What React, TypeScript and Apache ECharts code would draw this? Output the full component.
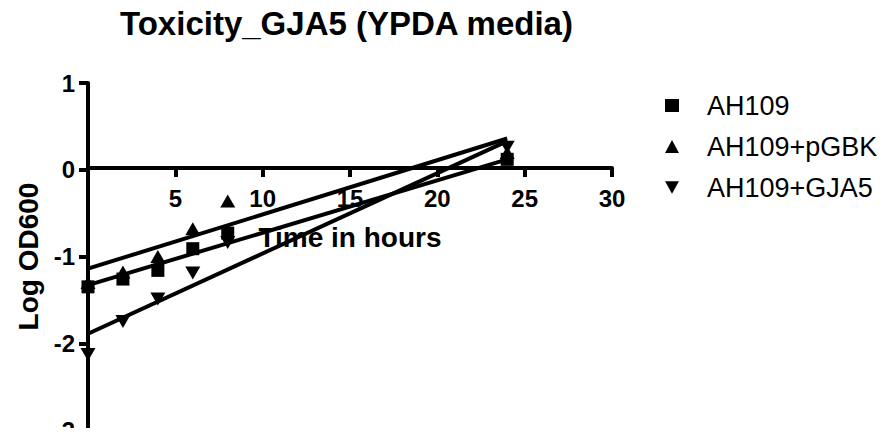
import React, { useEffect, useRef } from "react";
import * as echarts from "echarts";

const seriesNames = ["AH109", "AH109+pGBK", "AH109+GJA5"];
const hours = [0, 2, 4, 6, 8, 24];
const ah109 = [-1.35, -1.26, -1.16, -0.91, -0.73, 0.12];
const ah109pGBK = [-1.3, -1.18, -1.0, -0.68, -0.36, 0.2];
const ah109GJA5 = [-2.13, -1.75, -1.49, -1.19, -0.84, 0.26];
// fitted regression lines (endpoints)
const fitX = [0, 24];
const fitAH109 = [-1.33, 0.12];
const fitPGBK = [-1.14, 0.36];
const fitGJA5 = [-1.89, 0.33];
const xTicks = [0, 5, 10, 15, 20, 25, 30];
const yTicks = [-3, -2, -1, 0, 1];

const FONT = "'Liberation Sans', Arial, Helvetica, sans-serif";
const downTri = "path://M0,0L10,0L5,9Z";

export default function App() {
  const ref = useRef<HTMLDivElement>(null);
  useEffect(() => {
    if (!ref.current) return;
    const chart = echarts.init(ref.current, undefined, { renderer: "svg" });
    const pts = (ys: number[]) => hours.map((h, i) => [h, ys[i]]);
    const fit = (ys: number[]) => fitX.map((x, i) => [x, ys[i]]);
    const lineSeries = (ys: number[]) => ({
      type: "line",
      data: fit(ys),
      showSymbol: false,
      symbol: "none",
      silent: true,
      lineStyle: { color: "#000", width: 4 },
      z: 2,
    });
    const axisFont = { fontFamily: FONT, fontSize: 24, fontWeight: "bold", color: "#000" };
    chart.setOption({
      animation: false,
      backgroundColor: "#fff",
      textStyle: { fontFamily: FONT },
      title: {
        text: "Toxicity_GJA5 (YPDA media)",
        left: 120,
        top: 7,
        padding: 0,
        textStyle: { fontFamily: FONT, fontSize: 33, fontWeight: "bold", color: "#000" },
      },
      legend: {
        orient: "vertical",
        left: 665,
        top: 92,
        padding: 0,
        itemGap: 14,
        itemWidth: 14,
        itemHeight: 13,
        textStyle: { fontFamily: FONT, fontSize: 27, color: "#000", lineHeight: 27, padding: [0, 0, 0, 23] },
        data: [
          { name: seriesNames[0], icon: "rect", itemStyle: { color: "#000", opacity: 1 } },
          { name: seriesNames[1], icon: "triangle", itemStyle: { color: "#000", opacity: 1 } },
          { name: seriesNames[2], icon: downTri, itemStyle: { color: "#000", opacity: 1 } },
        ],
      },
      grid: [
        { left: 88, right: 273, top: 83, bottom: 6, outerBoundsMode: "none", containLabel: false },
        { left: 88, right: 273, top: 83, height: 85, outerBoundsMode: "none", containLabel: false },
      ],
      xAxis: [
        {
          type: "value",
          gridIndex: 0,
          min: xTicks[0],
          max: xTicks[xTicks.length - 1],
          interval: 5,
          show: false,
          splitLine: { show: false },
        },
        {
          type: "value",
          gridIndex: 1,
          position: "bottom",
          min: xTicks[0],
          max: xTicks[xTicks.length - 1],
          interval: 5,
          name: "Time in hours",
          nameLocation: "middle",
          nameGap: 55,
          nameTextStyle: { fontFamily: FONT, fontSize: 28, fontWeight: "bold", color: "#000" },
          axisLine: { show: true, onZero: false, lineStyle: { color: "#000", width: 4 } },
          axisTick: { show: true, length: 9, lineStyle: { color: "#000", width: 4 } },
          axisLabel: { showMinLabel: false, margin: 18, ...axisFont },
          splitLine: { show: false },
        },
      ],
      yAxis: [
        {
          type: "value",
          gridIndex: 0,
          min: yTicks[0],
          max: yTicks[yTicks.length - 1],
          interval: 1,
          name: "Log OD600",
          nameLocation: "middle",
          nameRotate: 90,
          nameGap: 46,
          nameTextStyle: { fontFamily: FONT, fontSize: 28, fontWeight: "bold", color: "#000" },
          axisLine: { show: true, onZero: false, lineStyle: { color: "#000", width: 4 } },
          axisTick: { show: true, length: 9, lineStyle: { color: "#000", width: 4 } },
          axisLabel: { margin: 13, ...axisFont },
          splitLine: { show: false },
        },
        {
          type: "value",
          gridIndex: 1,
          min: 0,
          max: 1,
          show: false,
          splitLine: { show: false },
        },
      ],
      series: [
        lineSeries(fitAH109),
        lineSeries(fitPGBK),
        lineSeries(fitGJA5),
        {
          name: seriesNames[0],
          type: "scatter",
          data: pts(ah109),
          symbol: "rect",
          symbolSize: 13,
          itemStyle: { color: "#000", opacity: 1 },
          z: 3,
        },
        {
          name: seriesNames[1],
          type: "scatter",
          data: pts(ah109pGBK),
          symbol: "triangle",
          symbolSize: [15, 13],
          itemStyle: { color: "#000", opacity: 1 },
          z: 3,
        },
        {
          name: seriesNames[2],
          type: "scatter",
          data: pts(ah109GJA5),
          symbol: downTri,
          symbolSize: [15, 13],
          itemStyle: { color: "#000", opacity: 1 },
          z: 3,
        },
      ],
    });
    return () => chart.dispose();
  }, []);
  return <div ref={ref} style={{ width: 885, height: 436, margin: -8 }} />;
}
